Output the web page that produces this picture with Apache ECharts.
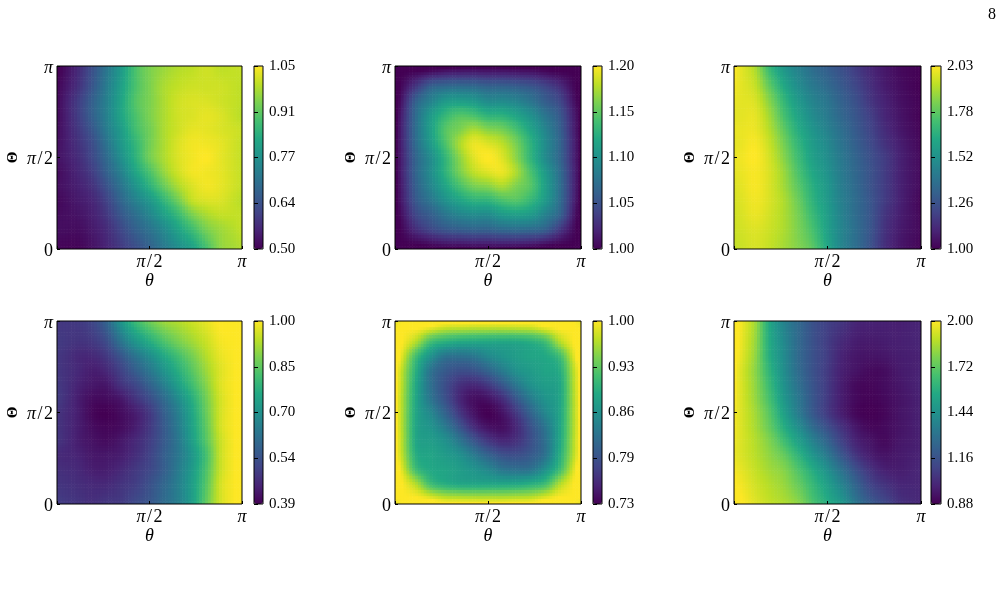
<!DOCTYPE html>
<html>
<head>
<meta charset="utf-8">
<style>html,body{margin:0;padding:0;background:#fff}#c{width:1004px;height:590px}</style>
<script src="https://cdn.jsdelivr.net/npm/echarts@6/dist/echarts.min.js"></script>
</head>
<body>
<div id="c"></div>
<script>
const cells = ['c0','c1','c2','c3','c4','c5','c6','c7','c8','c9','c10','c11','c12'];
const xTickLabels = ['', '{i|π}{n|\u200a/\u200a2}', '{i|π}'];
const yTickLabels = ['{n|0}', '{i|π}{n|\u200a/\u200a2}', '{i|π}'];
const viridis = ['#440154','#482475','#414487','#355f8d','#2a788e','#21918c','#22a884','#44bf70','#7ad151','#bddf26','#fde725'];

// each table: rows run from Θ=π (top) to Θ=0 (bottom), columns from θ=0 to θ=π
const panelA = [
[.52,.57,.64,.72,.80,.89,.94,.97,.99,1.00,1.01,1.00,1.00],
[.53,.58,.65,.73,.81,.89,.94,.98,1.00,1.01,1.01,1.01,1.00],
[.54,.60,.67,.74,.82,.90,.94,.98,1.01,1.02,1.02,1.01,1.00],
[.54,.60,.67,.74,.82,.89,.94,.98,1.01,1.02,1.03,1.02,1.00],
[.54,.59,.65,.73,.80,.88,.93,.98,1.01,1.03,1.03,1.02,1.01],
[.54,.58,.63,.71,.79,.86,.93,.98,1.02,1.04,1.04,1.03,1.01],
[.54,.57,.62,.69,.77,.85,.93,.98,1.02,1.04,1.05,1.03,1.01],
[.53,.56,.60,.67,.74,.82,.89,.96,1.01,1.04,1.04,1.03,1.01],
[.53,.55,.58,.64,.71,.78,.85,.92,.98,1.02,1.04,1.03,1.01],
[.52,.54,.56,.61,.68,.74,.79,.86,.93,1.00,1.02,1.02,1.00],
[.52,.53,.55,.59,.65,.70,.75,.81,.87,.94,.98,1.00,1.00],
[.52,.52,.54,.57,.62,.67,.71,.76,.82,.88,.94,.97,.99],
[.51,.51,.53,.56,.60,.64,.68,.73,.78,.83,.90,.96,.98]];
const panelB = [
[1.000,1.006,1.014,1.020,1.022,1.022,1.020,1.020,1.018,1.016,1.010,1.004,1.000],
[1.006,1.036,1.064,1.072,1.074,1.072,1.066,1.066,1.062,1.056,1.044,1.028,1.004],
[1.014,1.064,1.088,1.108,1.112,1.108,1.096,1.096,1.090,1.078,1.060,1.044,1.010],
[1.020,1.072,1.108,1.132,1.146,1.142,1.130,1.128,1.116,1.100,1.078,1.056,1.016],
[1.022,1.074,1.112,1.146,1.160,1.174,1.164,1.158,1.140,1.116,1.090,1.062,1.018],
[1.022,1.072,1.108,1.142,1.174,1.194,1.190,1.180,1.158,1.128,1.096,1.066,1.020],
[1.020,1.066,1.096,1.130,1.164,1.190,1.200,1.190,1.164,1.130,1.096,1.066,1.020],
[1.020,1.066,1.096,1.128,1.158,1.180,1.190,1.194,1.174,1.142,1.108,1.072,1.022],
[1.018,1.062,1.090,1.116,1.140,1.158,1.164,1.174,1.160,1.146,1.112,1.074,1.022],
[1.016,1.056,1.078,1.100,1.116,1.128,1.130,1.142,1.146,1.132,1.108,1.072,1.020],
[1.010,1.044,1.060,1.078,1.090,1.096,1.096,1.108,1.112,1.108,1.088,1.064,1.014],
[1.004,1.028,1.044,1.056,1.062,1.066,1.066,1.072,1.074,1.072,1.064,1.036,1.006],
[1.000,1.004,1.010,1.016,1.018,1.020,1.020,1.022,1.022,1.020,1.014,1.006,1.000]];
const panelC = [
[1.99,1.91,1.71,1.56,1.46,1.38,1.32,1.26,1.19,1.12,1.07,1.03,1.01],
[1.99,1.94,1.78,1.62,1.50,1.42,1.36,1.29,1.22,1.14,1.08,1.04,1.01],
[1.99,1.97,1.84,1.68,1.55,1.46,1.40,1.32,1.25,1.16,1.10,1.05,1.02],
[1.99,1.99,1.88,1.72,1.59,1.49,1.42,1.34,1.27,1.19,1.11,1.06,1.02],
[2.00,2.00,1.91,1.77,1.63,1.53,1.45,1.37,1.29,1.21,1.13,1.07,1.03],
[2.00,2.02,1.94,1.81,1.67,1.56,1.48,1.39,1.31,1.23,1.15,1.09,1.04],
[2.01,2.03,1.96,1.84,1.70,1.58,1.50,1.41,1.33,1.25,1.18,1.10,1.05],
[2.00,2.02,1.97,1.87,1.73,1.61,1.52,1.42,1.34,1.26,1.18,1.10,1.05],
[1.99,2.02,1.97,1.88,1.76,1.64,1.54,1.43,1.35,1.26,1.18,1.10,1.05],
[1.98,2.01,1.97,1.90,1.79,1.66,1.55,1.44,1.36,1.27,1.18,1.10,1.04],
[1.97,2.00,1.96,1.90,1.81,1.69,1.57,1.45,1.36,1.27,1.16,1.09,1.04],
[1.96,1.98,1.95,1.90,1.82,1.72,1.58,1.46,1.37,1.27,1.15,1.08,1.04],
[1.95,1.97,1.94,1.89,1.83,1.75,1.60,1.46,1.37,1.26,1.14,1.07,1.03]];
const panelD = [
[.49,.49,.51,.57,.68,.77,.83,.88,.91,.94,.97,1.00,1.00],
[.49,.48,.49,.53,.62,.70,.76,.82,.87,.91,.95,.99,1.00],
[.48,.46,.46,.49,.55,.62,.68,.75,.81,.87,.93,.98,1.00],
[.48,.46,.44,.46,.51,.57,.63,.70,.77,.84,.91,.97,1.00],
[.48,.45,.43,.43,.48,.52,.58,.65,.73,.81,.89,.97,1.00],
[.48,.44,.41,.41,.43,.48,.53,.60,.68,.77,.87,.96,1.00],
[.47,.44,.40,.39,.41,.44,.49,.57,.65,.75,.86,.96,1.00],
[.47,.44,.41,.40,.41,.44,.49,.56,.64,.74,.85,.96,1.00],
[.47,.44,.42,.41,.43,.46,.50,.56,.63,.73,.84,.95,1.00],
[.46,.45,.43,.43,.44,.47,.51,.57,.63,.71,.82,.95,1.00],
[.47,.46,.44,.44,.46,.49,.52,.57,.64,.72,.83,.95,1.00],
[.48,.47,.46,.46,.48,.50,.54,.59,.65,.73,.84,.96,1.00],
[.49,.48,.47,.48,.49,.52,.55,.60,.65,.73,.85,.96,1.00]];
const panelE = [
[1.000,1.000,.987,.973,.970,.968,.968,.968,.970,.973,.987,1.000,1.000],
[1.000,.965,.914,.897,.889,.887,.887,.887,.889,.897,.914,.965,1.000],
[.987,.914,.865,.833,.829,.835,.854,.868,.879,.887,.892,.914,.987],
[.973,.897,.833,.807,.795,.798,.816,.841,.865,.877,.887,.897,.973],
[.970,.889,.829,.795,.769,.761,.775,.803,.837,.865,.879,.889,.970],
[.968,.887,.835,.798,.761,.741,.744,.765,.803,.841,.868,.887,.968],
[.968,.887,.854,.816,.775,.744,.730,.744,.775,.816,.854,.887,.968],
[.968,.887,.868,.841,.803,.765,.744,.741,.761,.798,.835,.887,.968],
[.970,.889,.879,.865,.837,.803,.775,.761,.769,.795,.829,.889,.970],
[.973,.897,.887,.877,.865,.841,.816,.798,.795,.807,.833,.897,.973],
[.987,.914,.892,.887,.879,.868,.854,.835,.829,.833,.865,.914,.987],
[1.000,.965,.914,.897,.889,.887,.887,.887,.889,.897,.914,.965,1.000],
[1.000,1.000,.987,.973,.970,.968,.968,.968,.970,.973,.987,1.000,1.000]];
const panelF = [
[1.98,1.83,1.55,1.38,1.26,1.16,1.09,1.04,.99,.98,.98,.98,.99],
[1.97,1.82,1.56,1.40,1.26,1.16,1.08,1.01,.97,.96,.97,.98,.99],
[1.96,1.81,1.57,1.41,1.26,1.16,1.08,.99,.95,.94,.95,.97,.98],
[1.94,1.80,1.60,1.42,1.27,1.16,1.07,.98,.94,.91,.92,.96,.98],
[1.94,1.81,1.63,1.44,1.29,1.17,1.07,.97,.91,.90,.92,.95,.98],
[1.94,1.82,1.66,1.47,1.32,1.18,1.07,.97,.91,.89,.91,.94,.97],
[1.94,1.84,1.70,1.51,1.34,1.19,1.07,.97,.90,.88,.90,.94,.97],
[1.94,1.85,1.73,1.57,1.42,1.27,1.15,1.04,.95,.90,.91,.94,.97],
[1.94,1.87,1.78,1.65,1.51,1.37,1.24,1.10,.99,.94,.91,.95,.97],
[1.94,1.88,1.81,1.73,1.60,1.46,1.33,1.18,1.05,.97,.94,.96,.98],
[1.96,1.90,1.84,1.79,1.68,1.56,1.43,1.29,1.15,1.04,.98,.97,.99],
[1.98,1.92,1.87,1.82,1.73,1.62,1.50,1.37,1.23,1.10,1.04,1.00,1.00],
[2.00,1.94,1.89,1.85,1.78,1.66,1.55,1.44,1.29,1.17,1.10,1.03,1.01]];

const barA = ['0.50','0.64','0.77','0.91','1.05'];
const barB = ['1.00','1.05','1.10','1.15','1.20'];
const barC = ['1.00','1.26','1.52','1.78','2.03'];
const barD = ['0.39','0.54','0.70','0.85','1.00'];
const barE = ['0.73','0.79','0.86','0.93','1.00'];
const barF = ['0.88','1.16','1.44','1.72','2.00'];

const panels = [
  {v:panelA, bar:barA, x:57,  y:66,  w:185, h:183, bx:254, bw:9},
  {v:panelB, bar:barB, x:395, y:66,  w:186, h:183, bx:593, bw:9},
  {v:panelC, bar:barC, x:734, y:66,  w:187, h:183, bx:931, bw:10},
  {v:panelD, bar:barD, x:57,  y:321, w:185, h:183, bx:254, bw:9},
  {v:panelE, bar:barE, x:395, y:321, w:186, h:183, bx:593, bw:9},
  {v:panelF, bar:barF, x:734, y:321, w:187, h:183, bx:931, bw:10}
];

// Smooth (Gouraud-like) shading of each measured cell; the series data stay the read values.
const stops = viridis.map(h=>[1,3,5].map(i=>parseInt(h.substr(i,2),16)));
function tint(t){
  t = Math.max(0,Math.min(1,t))*(stops.length-1);
  const i = Math.min(stops.length-2,Math.floor(t)), f = t-i, a = stops[i], b = stops[i+1];
  return 'rgb('+a.map((x,k)=>Math.round(x+(b[k]-x)*f)).join(',')+')';
}
function at(T,c,r){
  const m = T.length-1;
  if(c<0) return at(T,0,r)+c*(at(T,1,r)-at(T,0,r));
  if(c>m) return at(T,m,r)+(c-m)*(at(T,m,r)-at(T,m-1,r));
  if(r<0) return at(T,c,0)+r*(at(T,c,1)-at(T,c,0));
  if(r>m) return at(T,c,m)+(r-m)*(at(T,c,m)-at(T,c,m-1));
  return T[m-r][c];
}
const cr = (a,b,c,d,t)=>.5*(2*b+(c-a)*t+(2*a-5*b+4*c-d)*t*t+(3*b-a-3*c+d)*t*t*t);
function shade(T,u,v){
  const i = Math.floor(u), j = Math.floor(v), s = u-i, t = v-j, q = [];
  for(let k=-1;k<=2;k++) q.push(cr(at(T,i-1,j+k),at(T,i,j+k),at(T,i+1,j+k),at(T,i+2,j+k),s));
  return cr(q[0],q[1],q[2],q[3],t);
}
const SUB = 5;
const makeRender = (T,lo,hi)=>(params,api)=>{
  const c = api.value(0), r = api.value(1), pt = api.coord([c,r]), sz = api.size([1,1]);
  const dw = sz[0]/SUB, dh = sz[1]/SUB, L = pt[0]-sz[0]/2, B = pt[1]+sz[1]/2, children = [];
  for(let a=0;a<SUB;a++) for(let b=0;b<SUB;b++){
    const val = shade(T,c-.5+(a+.5)/SUB,r-.5+(b+.5)/SUB);
    children.push({type:'rect',silent:true,
      shape:{x:L+a*dw,y:B-(b+1)*dh,width:dw+.6,height:dh+.6},
      style:{fill:tint((val-lo)/(hi-lo))}});
  }
  return {type:'group',children};
};

const serif = '"Liberation Serif","Times New Roman",serif';
const rich = {i:{fontFamily:serif,fontStyle:'italic',fontSize:18,color:'#000'},n:{fontFamily:serif,fontSize:18,color:'#000'}};
const opt = {
  backgroundColor:'#fff', animation:false,
  title:{text:'8',left:988,top:7,padding:0,textStyle:{fontFamily:serif,fontSize:16,fontWeight:'normal',color:'#000'}},
  grid:[],xAxis:[],yAxis:[],series:[],visualMap:[]
};
panels.forEach((p,k)=>{
  const g = opt.grid.length;
  opt.grid.push({left:p.x,top:p.y,width:p.w,height:p.h,show:true,z:5,borderColor:'#000',borderWidth:1,backgroundColor:'transparent'});
  const xc = opt.xAxis.length, yc = opt.yAxis.length;
  opt.xAxis.push({type:'category',gridIndex:g,data:cells,show:false});
  opt.yAxis.push({type:'category',gridIndex:g,data:cells,show:false});
  opt.xAxis.push({type:'value',gridIndex:g,min:0,max:2,interval:1,position:'bottom',z:6,
    name:'θ',nameLocation:'middle',nameGap:23,nameTextStyle:{fontFamily:serif,fontStyle:'italic',fontSize:18,color:'#000'},
    axisLine:{show:false},splitLine:{show:false},
    axisTick:{show:true,inside:true,length:3,lineStyle:{color:'#000'}},
    axisLabel:{margin:4,hideOverlap:false,showMinLabel:true,showMaxLabel:true,rich,formatter:v=>xTickLabels[v]}});
  opt.yAxis.push({type:'value',gridIndex:g,min:0,max:2,interval:1,position:'left',z:6,
    name:'Θ',nameLocation:'middle',nameGap:36,nameRotate:90,nameTextStyle:{fontFamily:serif,fontWeight:'bold',fontSize:15,color:'#000'},
    axisLine:{show:false},splitLine:{show:false},
    axisTick:{show:true,inside:true,length:3,lineStyle:{color:'#000'}},
    axisLabel:{margin:4,padding:[4,0,0,0],hideOverlap:false,showMinLabel:true,showMaxLabel:true,rich,formatter:v=>yTickLabels[v]}});
  const data = [];
  p.v.forEach((row,r)=>row.forEach((val,c)=>data.push([c,p.v.length-1-r,val])));
  const si = opt.series.length;
  const lo = parseFloat(p.bar[0]), hi = parseFloat(p.bar[4]);
  opt.series.push({type:'custom',xAxisIndex:xc,yAxisIndex:yc,data,clip:true,silent:true,encode:{x:0,y:1},renderItem:makeRender(p.v,lo,hi)});
  opt.visualMap.push({type:'continuous',seriesIndex:si,min:lo,max:hi,left:p.bx,top:p.y,padding:0,
    itemWidth:p.bw,itemHeight:p.h,text:null,showLabel:false,calculable:false,realtime:false,hoverLink:false,
    inRange:{color:viridis},textStyle:{color:'transparent',fontSize:0},z:1});
  // colour bar frame and tick labels
  const gb = opt.grid.length;
  opt.grid.push({left:p.bx,top:p.y,width:p.bw,height:p.h,show:true,z:5,borderColor:'#000',borderWidth:1,backgroundColor:'transparent'});
  opt.xAxis.push({type:'value',gridIndex:gb,min:0,max:1,show:false});
  opt.yAxis.push({type:'value',gridIndex:gb,min:0,max:4,interval:1,position:'right',z:6,
    axisLine:{show:false},splitLine:{show:false},
    axisTick:{show:true,inside:false,length:4,lineStyle:{color:'#000'}},
    axisLabel:{margin:6,padding:[3,0,0,0],hideOverlap:false,showMinLabel:true,showMaxLabel:true,fontFamily:serif,fontSize:15,color:'#000',formatter:v=>p.bar[v]}});
});
echarts.init(document.getElementById('c'),null,{renderer:'canvas'}).setOption(opt);
</script>
</body>
</html>
